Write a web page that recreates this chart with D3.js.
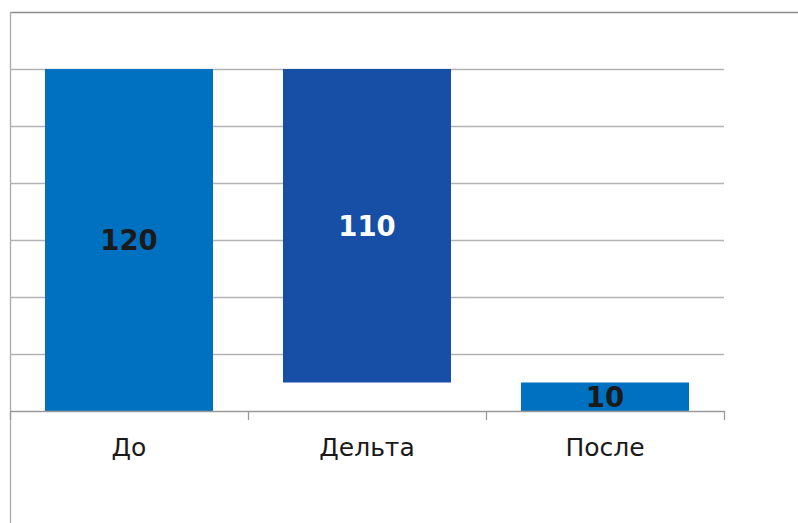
<!DOCTYPE html>
<html><head><meta charset="utf-8">
<script src="https://cdn.jsdelivr.net/npm/d3@7/dist/d3.min.js"></script>
<style>body{margin:0;background:#fff}svg{display:block}</style>
</head><body>
<script>
const categories = ["До", "Дельта", "После"];
const barStart = [0, 10, 0];
const barEnd = [120, 120, 10];
const valueLabels = ["120", "110", "10"];
const yTicks = [0, 20, 40, 60, 80, 100, 120];

const W = 798, H = 523;
const L = 10, R = 724, T = 69, B = 411;
const svg = d3.select("body").append("svg").attr("width", W).attr("height", H);

// frame
svg.append("line").attr("x1", 10.5).attr("x2", 798).attr("y1", 12.5).attr("y2", 12.5).attr("stroke", "#8c8c8c").attr("stroke-width", 1.3);
svg.append("line").attr("x1", 10.5).attr("x2", 10.5).attr("y1", 12).attr("y2", H).attr("stroke", "#aaaaaa").attr("stroke-width", 1.3);

const x = d3.scaleBand().domain(categories).range([L, R]).paddingInner(0.294).paddingOuter(0.147);
const y = d3.scaleLinear().domain([0, 120]).range([B, T]);

// gridlines
svg.append("g").selectAll("line").data(yTicks.filter(d => d > 0)).join("line")
  .attr("x1", L).attr("x2", R)
  .attr("y1", d => Math.round(y(d)) + 0.5).attr("y2", d => Math.round(y(d)) + 0.5)
  .attr("stroke", "#b3b3b3").attr("stroke-width", 1.3);

const colors = ["#0070C0", "#164FA5", "#0070C0"];
const labelColors = ["#1a1a1a", "#ffffff", "#1a1a1a"];

svg.append("g").selectAll("rect").data(categories).join("rect")
  .attr("x", d => x(d)).attr("width", x.bandwidth())
  .attr("y", (d, i) => y(barEnd[i])).attr("height", (d, i) => y(barStart[i]) - y(barEnd[i]))
  .attr("fill", (d, i) => colors[i]);

// x axis
const gx = svg.append("g").attr("transform", `translate(0,${B})`);
gx.append("line").attr("x1", L).attr("x2", R).attr("y1", 0.5).attr("y2", 0.5).attr("stroke", "#9a9a9a").attr("stroke-width", 1.3);
const bounds = d3.range(categories.length + 1).map(i => L + i * (R - L) / categories.length);
gx.selectAll("line.tk").data(bounds).join("line").attr("class", "tk")
  .attr("x1", d => Math.round(d) + 0.5).attr("x2", d => Math.round(d) + 0.5)
  .attr("y1", 0).attr("y2", 9).attr("stroke", "#9a9a9a").attr("stroke-width", 1.3);
gx.selectAll("text.cat").data(categories).join("text").attr("class", "cat")
  .attr("x", d => x(d) + x.bandwidth() / 2).attr("y", 45)
  .attr("text-anchor", "middle")
  .attr("font-family", "DejaVu Sans, Verdana, sans-serif").attr("font-size", 25)
  .attr("fill", "#1a1a1a").text(d => d);

// value labels
svg.append("g").selectAll("text").data(categories).join("text")
  .attr("x", d => x(d) + x.bandwidth() / 2)
  .attr("y", (d, i) => (y(barStart[i]) + y(barEnd[i])) / 2)
  .attr("dy", "0.36em")
  .attr("text-anchor", "middle")
  .attr("font-family", "DejaVu Sans, Verdana, sans-serif").attr("font-weight", "bold").attr("font-size", 27.5)
  .attr("fill", (d, i) => labelColors[i]).text((d, i) => valueLabels[i]);
</script>
</body></html>
